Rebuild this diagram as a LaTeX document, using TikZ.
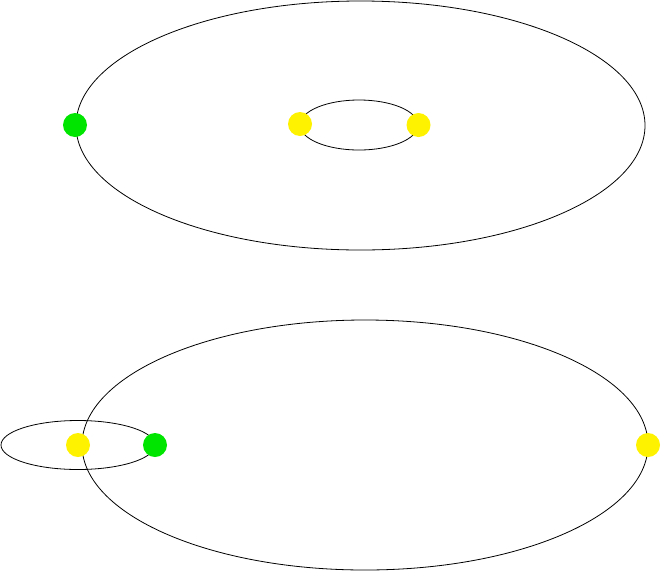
\documentclass[tikz,border=0pt]{standalone}
\begin{document}
\begin{tikzpicture}[x=1pt,y=-1pt,
  orbit/.style={draw=black,line width=0.8pt},
  gdot/.style={circle,fill=green!90!black,inner sep=0pt,minimum size=24pt},
  ydot/.style={circle,fill=yellow,inner sep=0pt,minimum size=24pt}]
\useasboundingbox (0,0) rectangle (661,571);
% top
\draw[orbit] (360.5,125.5) ellipse [x radius=284.5, y radius=124.5];
\draw[orbit] (359,125) ellipse [x radius=59, y radius=25];
\node[gdot] (g1) at (75,125) {};
\node[ydot] (y1) at (300,124) {};
\node[ydot] (y2) at (418.5,125) {};
% bottom
\draw[orbit] (365,445) ellipse [x radius=283, y radius=125];
\draw[orbit] (78,445) ellipse [x radius=77, y radius=24.5];
\node[ydot] (y3) at (78,445) {};
\node[gdot] (g2) at (155,445) {};
\node[ydot] (y4) at (648,445) {};
\end{tikzpicture}
\end{document}
